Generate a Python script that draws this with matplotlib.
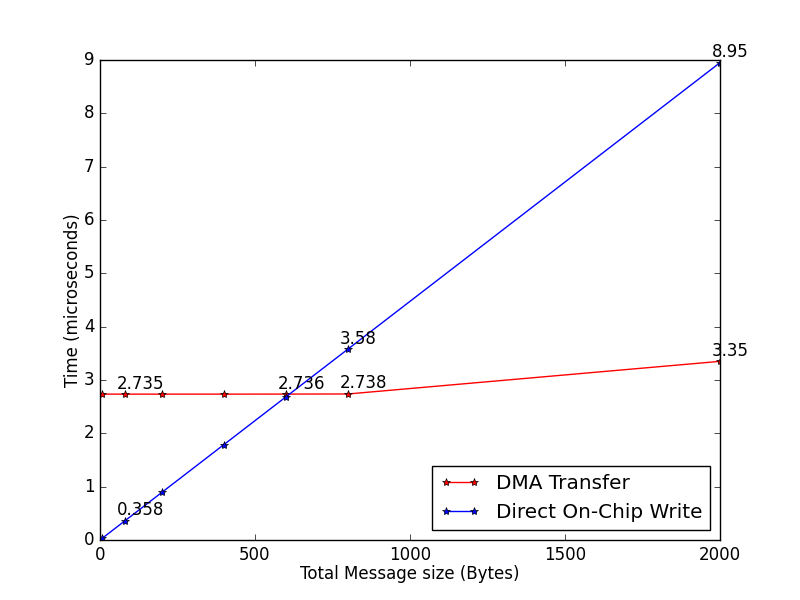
import matplotlib
matplotlib.use("Agg")
import matplotlib.pyplot as plt

plt.style.use('classic')

sizes = [8, 80, 200, 400, 600, 800, 2000]
dma = [2.735, 2.735, 2.735, 2.735, 2.736, 2.738, 3.35]
direct = [0.0358, 0.358, 0.895, 1.79, 2.685, 3.58, 8.95]

dma_labels = {1: "2.735", 4: "2.736", 5: "2.738", 6: "3.35"}
direct_labels = {1: "0.358", 5: "3.58", 6: "8.95"}

fig, ax = plt.subplots(figsize=(8, 6), dpi=100)
ax.plot(sizes, dma, 'r*-', label='DMA Transfer')
ax.plot(sizes, direct, 'b*-', label='Direct On-Chip Write')

for i, t in dma_labels.items():
    ax.annotate(t, xy=(sizes[i], dma[i]), xytext=(-6, 4), textcoords='offset points')
for i, t in direct_labels.items():
    ax.annotate(t, xy=(sizes[i], direct[i]), xytext=(-6, 4), textcoords='offset points')

ax.set_xlim(0, 2000)
ax.set_ylim(0, 9)
ax.set_xlabel('Total Message size (Bytes)', labelpad=1)
ax.set_ylabel('Time (microseconds)', labelpad=1)
ax.legend(loc='lower right')
fig.savefig('out.png', dpi=100)
